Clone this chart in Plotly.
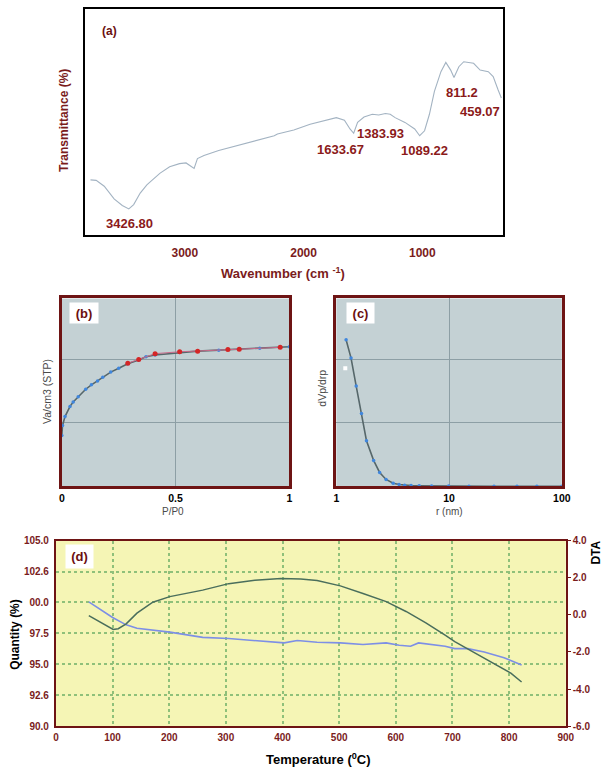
import plotly.graph_objects as go

W, H = 614, 774
def fx(p): return p / W
def fy(p): return 1 - p / H

# ---------------- data ----------------
# (a) FTIR spectrum
ftir_wavenumber = [3795, 3747, 3679, 3596, 3527, 3472, 3431, 3376, 3320, 3211,
                   3128, 3045, 2990, 2949, 2922, 2894, 2839, 2715, 2495, 2247,
                   2220, 2082, 1945, 1807, 1724, 1656, 1609, 1578, 1545, 1491,
                   1421, 1367, 1311, 1270, 1229, 1146, 1064, 1022, 981, 940,
                   898, 843, 802, 761, 733, 692, 651, 568, 513, 444,
                   403, 362, 334]
ftir_transmittance = [24.5, 24.3, 21.7, 16.1, 13.2, 11.7, 13.6, 18.7, 22.3, 27.4,
                      30.3, 31.7, 32.0, 30.3, 29.6, 33.9, 35.3, 37.5, 40.4, 44.0,
                      44.8, 46.5, 49.1, 51.0, 52.0, 50.9, 47.0, 45.1, 49.9, 52.3,
                      53.5, 53.2, 53.8, 53.5, 52.0, 49.9, 47.0, 44.0, 46.2, 53.5,
                      63.6, 72.3, 76.4, 73.0, 69.7, 74.5, 76.7, 76.0, 73.0, 72.3,
                      70.1, 64.3, 60.7]
ftir_peak_labels = ["3426.80", "1633.67", "1383.93", "1089.22", "811.2", "459.07"]
ftir_ticks = [3000, 2000, 1000]

# (b) N2 isotherm
p_ads = [0.0, 0.003, 0.014, 0.036, 0.05, 0.072, 0.105, 0.13, 0.157, 0.18, 0.215, 0.25,
         0.29, 0.338, 0.37, 0.41, 0.518, 0.597, 0.69, 0.78, 0.87, 0.96, 1.0]
v_ads = [80, 96, 110, 126, 133, 141, 153, 160, 166, 172, 180, 186,
         193, 199, 204, 207, 211, 213, 214.5, 216, 217.5, 219, 220]
p_des = [0.29, 0.338, 0.41, 0.518, 0.597, 0.73, 0.78, 0.96]
v_des = [194, 200, 209, 212, 213, 215.5, 216, 219]

# (c) pore size distribution
r_nm = [1.22, 1.35, 1.5, 1.67, 1.85, 2.14, 2.42, 2.76, 3.19, 3.6, 4.03, 4.6, 5.43,
        7, 9.9, 15, 25, 40, 60, 100]
dvp_drp = [231, 202, 158, 115, 72, 41, 22, 11, 5, 3, 2, 1.3, 1,
           0.7, 0.5, 0.4, 0.3, 0.3, 0.3, 0.3]
c_stray_r = [1.2]
c_stray_v = [186]

# (d) TG / DTA
tg_temp = [58, 100, 124, 143, 201, 236, 259, 305, 351, 403, 426, 444, 461, 502, 542,
           583, 606, 626, 640, 687, 704, 727, 756, 791, 822]
tg_quantity = [100.05, 98.78, 98.19, 97.92, 97.6, 97.34, 97.18, 97.08, 96.92, 96.73,
               96.92, 96.86, 96.78, 96.73, 96.6, 96.73, 96.54, 96.46, 96.73, 96.46,
               96.27, 96.27, 96.0, 95.53, 94.95]
dta_temp = [58, 80, 101, 110, 124, 143, 171, 201, 259, 305, 351, 397, 432, 461, 502,
            542, 583, 618, 653, 687, 704, 733, 768, 803, 822]
dta_value = [-0.04, -0.43, -0.79, -0.75, -0.49, 0.09, 0.68, 0.98, 1.33, 1.68, 1.86,
             1.95, 1.93, 1.85, 1.56, 1.15, 0.71, 0.18, -0.43, -1.09, -1.44, -1.94,
             -2.56, -3.14, -3.62]
q_tickvals = [105, 102.5, 100, 97.5, 95, 92.5, 90]
q_ticktext = ["105.0", "102.6", "00.0", "97.5", "95.0", "92.6", "90.0"]
dta_tickvals = [4, 2, 0, -2, -4, -6]
dta_ticktext = ["4.0", "2.0", "0.0", "-2.0", "-4.0", "-6.0"]

# ---------------- styling ----------------
FONT = "Liberation Sans"
DARKRED = "#7a1c1c"
LABELRED = "#8b1a1a"
BORDER = "#6e1414"
PANEL_BG = "#c4d1d4"
GRID_BC = "#8d9fa5"
YELLOW = "#f5f5b5"
GREEN_GRID = "#8fc07a"

fig = go.Figure()

# (a)
fig.add_trace(go.Scatter(x=ftir_wavenumber, y=ftir_transmittance, mode="lines",
                         line=dict(color="#a3b3c2", width=1.1),
                         xaxis="x", yaxis="y", showlegend=False))
# (b)
fig.add_trace(go.Scatter(x=p_ads, y=v_ads, mode="lines+markers",
                         line=dict(color="#56676a", width=1.6),
                         marker=dict(color="#3f86dd", size=3.5),
                         xaxis="x2", yaxis="y2", showlegend=False))
fig.add_trace(go.Scatter(x=p_des, y=v_des, mode="lines+markers",
                         line=dict(color="#c86a8a", width=1),
                         marker=dict(color="#d42626", size=5),
                         xaxis="x2", yaxis="y2", showlegend=False))
# (c)
fig.add_trace(go.Scatter(x=r_nm, y=dvp_drp, mode="lines+markers",
                         line=dict(color="#56676a", width=1.6),
                         marker=dict(color="#3f86dd", size=3.5),
                         xaxis="x3", yaxis="y3", showlegend=False))
fig.add_trace(go.Scatter(x=c_stray_r, y=c_stray_v, mode="markers",
                         marker=dict(color="white", size=4, symbol="square"),
                         xaxis="x3", yaxis="y3", showlegend=False))
# (d)
fig.add_trace(go.Scatter(x=tg_temp, y=tg_quantity, mode="lines",
                         line=dict(color="#7d8fe6", width=1.6),
                         xaxis="x4", yaxis="y4", showlegend=False))
fig.add_trace(go.Scatter(x=dta_temp, y=dta_value, mode="lines",
                         line=dict(color="#4a6e5c", width=1.5),
                         xaxis="x4", yaxis="y5", showlegend=False))

# panel backgrounds
shapes = [
    dict(type="rect", xref="x2 domain", yref="y2 domain", x0=0, x1=1, y0=0, y1=1,
         fillcolor=PANEL_BG, line=dict(width=0), layer="below"),
    dict(type="rect", xref="x3 domain", yref="y3 domain", x0=0, x1=1, y0=0, y1=1,
         fillcolor=PANEL_BG, line=dict(width=0), layer="below"),
    dict(type="rect", xref="x4 domain", yref="y4 domain", x0=0, x1=1, y0=0, y1=1,
         fillcolor=YELLOW, line=dict(width=0), layer="below"),
]

def tf(size, color="black", bold=True):
    return dict(family=FONT, size=size, color=color, weight="bold" if bold else "normal")

layout = dict(
    width=W, height=H, margin=dict(l=0, r=0, t=0, b=0),
    paper_bgcolor="white", plot_bgcolor="rgba(0,0,0,0)",
    showlegend=False, shapes=shapes,
    # (a)
    xaxis=dict(domain=[fx(84), fx(510)], range=[3838, 320], anchor="y",
               tickvals=ftir_ticks, ticks="outside", ticklen=5,
               tickcolor="rgba(0,0,0,0)", tickfont=tf(12, DARKRED),
               showgrid=False, zeroline=False, showline=True, mirror=True,
               linecolor="black", linewidth=2),
    yaxis=dict(domain=[fy(233), fy(3)], range=[0, 100], anchor="x",
               showticklabels=False, ticks="", showgrid=False, zeroline=False,
               showline=True, mirror=True, linecolor="black", linewidth=2),
    # (b)
    xaxis2=dict(domain=[fx(60), fx(292)], range=[0, 1], anchor="y2",
                tickvals=[0, 0.5, 1], ticktext=["0", "0.5", "1"],
                ticks="outside", ticklen=0, tickcolor="rgba(0,0,0,0)",
                tickfont=tf(10.5), showgrid=True, gridcolor=GRID_BC, gridwidth=1,
                zeroline=False, showline=True, mirror=True,
                linecolor=BORDER, linewidth=3),
    yaxis2=dict(domain=[fy(488), fy(297)], range=[0, 296], anchor="x2",
                tickvals=[100, 200], showticklabels=False, ticks="",
                showgrid=True, gridcolor=GRID_BC, gridwidth=1, zeroline=False,
                showline=True, mirror=True, linecolor=BORDER, linewidth=3),
    # (c)
    xaxis3=dict(domain=[fx(340), fx(570)], type="log", range=[0, 2], anchor="y3",
                tickvals=[1, 10, 100], ticktext=["1", "10", "100"],
                ticks="outside", ticklen=0, tickcolor="rgba(0,0,0,0)",
                tickfont=tf(10.5), showgrid=True, gridcolor=GRID_BC, gridwidth=1,
                zeroline=False, showline=True, mirror=True,
                linecolor=BORDER, linewidth=3),
    yaxis3=dict(domain=[fy(488), fy(297)], range=[0, 296], anchor="x3",
                tickvals=[100, 200], showticklabels=False, ticks="",
                showgrid=True, gridcolor=GRID_BC, gridwidth=1, zeroline=False,
                showline=True, mirror=True, linecolor=BORDER, linewidth=3),
    # (d)
    xaxis4=dict(domain=[fx(54), fx(574)], range=[0, 900], anchor="y4",
                tickvals=list(range(0, 901, 100)),
                ticks="outside", ticklen=1, tickcolor="rgba(0,0,0,0)",
                tickfont=tf(10, DARKRED), showgrid=True, gridcolor=GREEN_GRID,
                griddash="dot", gridwidth=1.5, zeroline=False, showline=True,
                mirror=True, linecolor=BORDER, linewidth=2),
    yaxis4=dict(domain=[fy(731.5), fy(543)], range=[90, 105], anchor="x4",
                tickvals=q_tickvals, ticktext=q_ticktext,
                ticks="outside", ticklen=3, tickcolor="rgba(0,0,0,0)",
                tickfont=tf(10, DARKRED), showgrid=True, gridcolor=GREEN_GRID,
                griddash="dot", gridwidth=1.5, zeroline=False, showline=True,
                mirror=True, linecolor=BORDER, linewidth=2),
    yaxis5=dict(overlaying="y4", side="right", anchor="x4", range=[-6, 4],
                tickvals=dta_tickvals, ticktext=dta_ticktext,
                ticks="outside", ticklen=3, tickcolor=BORDER,
                tickfont=tf(10, DARKRED), showgrid=False, zeroline=False,
                showline=True, linecolor=BORDER, linewidth=2),
)

annotations = []
def ann(text, x, y, size, color="black", bold=True, angle=0, bg=None, w=None, h=None):
    a = dict(text=text, x=fx(x), y=fy(y), xref="paper", yref="paper",
             showarrow=False, xanchor="center", yanchor="middle",
             textangle=angle, font=tf(size, color, bold))
    if bg:
        a.update(bgcolor=bg, borderpad=0)
    if w:
        a.update(width=w, height=h)
    annotations.append(a)

# (a)
ann("(a)", 109, 25, 12, "#6b1010")
ann("Transmittance (%)", 62, 116, 12, DARKRED, angle=-90)
ann("Wavenumber (cm <sup>-1</sup>)", 286, 271, 13, DARKRED)
peak_pos = [(129, 221), (344, 146), (385, 130), (430, 147), (468, 88), (486, 107)]
for lbl, (px_, py_) in zip(ftir_peak_labels, peak_pos):
    ann(lbl, px_, py_, 13, LABELRED)
# (b)
ann("(b)", 83, 312, 13, "#6b1010", bg="white", w=28, h=20)
ann("Va/cm3 (STP)", 45, 392, 10.5, "#4a4a4a", bold=False, angle=-90)
ann("P/P0", 173, 513, 10, "#4a4a4a", bold=False)
# (c)
ann("(c)", 365, 312, 13, "#6b1010", bg="white", w=27, h=20)
ann("dVp/drp", 325, 388, 10.5, "#4a4a4a", bold=False, angle=-90)
ann("r (nm)", 455, 513, 10, "#4a4a4a", bold=False)
# (d)
ann("(d)", 78, 559, 13, "#6b1010", bg="white", w=27, h=23)
ann("Quantity (%)", 12, 638, 12, "black", angle=-90)
ann("DTA", 605, 555, 12, "black", angle=-90)
ann("Temperature (<sup>0</sup>C)", 322, 765, 13, "black")

layout["annotations"] = annotations
fig.update_layout(**layout)
fig.write_html("out.html",
               config={"displayModeBar": False},
               post_script="document.body.style.margin='0px';document.body.style.padding='0px';document.body.style.overflow='hidden';")
